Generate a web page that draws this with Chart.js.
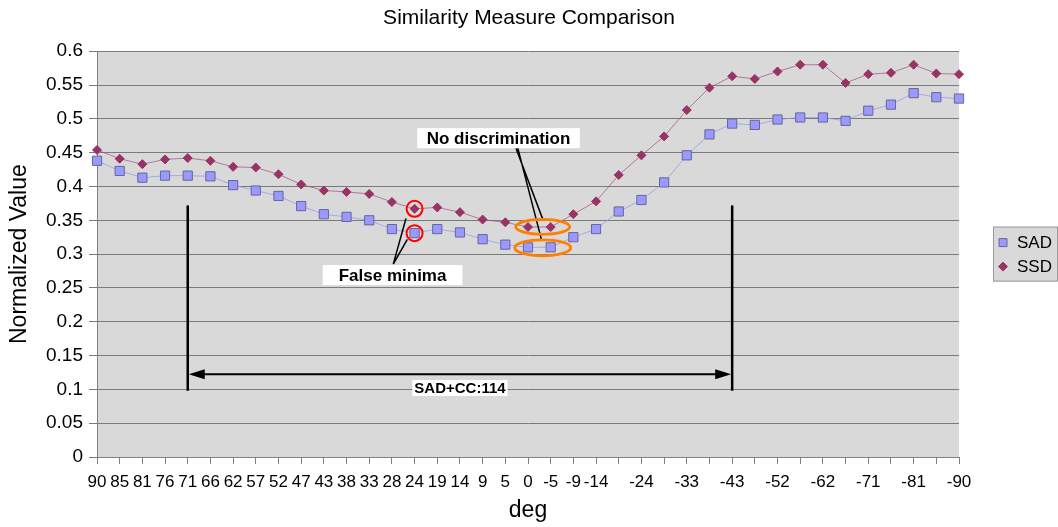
<!DOCTYPE html>
<html>
<head>
<meta charset="utf-8">
<script src="https://cdn.jsdelivr.net/npm/chart.js@4.4.0/dist/chart.umd.min.js"></script>
<style>
  html, body { margin: 0; padding: 0; background: #fff; }
  #wrap { width: 1058px; height: 527px; }
</style>
</head>
<body>
<div id="wrap"><canvas id="simChart" width="1058" height="527"></canvas></div>
<script>
// x categories (deg)
const degLabels = ['90','85','81','76','71','66','62','57','52','47','43','38','33','28','24','19','14','9','5','0',
  '-5','-9','-14','-19','-24','-28','-33','-38','-43','-47','-52','-57','-62','-66','-71','-76','-81','-85','-90'];

const sadValues = [0.438,0.423,0.413,0.416,0.416,0.415,0.402,0.394,0.386,0.371,0.359,0.355,0.350,0.337,0.331,
  0.337,0.332,0.322,0.314,0.310,0.310,0.325,0.337,0.363,0.380,0.406,0.446,0.477,0.493,0.491,0.499,0.502,0.502,
  0.497,0.512,0.521,0.538,0.532,0.530];

const ssdValues = [0.454,0.441,0.433,0.440,0.442,0.438,0.429,0.428,0.418,0.403,0.394,0.392,0.389,0.377,0.367,
  0.369,0.362,0.351,0.347,0.340,0.340,0.359,0.378,0.417,0.446,0.474,0.513,0.546,0.563,0.559,0.570,0.580,0.580,
  0.553,0.566,0.568,0.580,0.567,0.566];

const seriesNames = ['SAD', 'SSD'];

// annotation anchors, in category index / value units
const rangeStart = 4, rangeEnd = 28;     // 71 .. -43
const rangeLabel = 'SAD+CC:114';
const falseMinIdx = 14;                  // 24 deg
const noDiscIdx = 19.65;                 // between 0 and -5

const FONT = '"Liberation Sans", Arial, sans-serif';

function textBox(ctx, text, cx, cy, padX, h, font) {
  ctx.save();
  ctx.font = font;
  const w = ctx.measureText(text).width + padX * 2;
  ctx.fillStyle = '#fff';
  ctx.fillRect(cx - w / 2, cy - h / 2, w, h);
  ctx.fillStyle = '#000';
  ctx.textAlign = 'center';
  ctx.textBaseline = 'middle';
  ctx.fillText(text, cx, cy + 1);
  ctx.restore();
}

const notesPlugin = {
  id: 'notes',
  beforeDraw(chart) {
    const {ctx, chartArea: a} = chart;
    ctx.save();
    ctx.fillStyle = '#d9d9d9';
    ctx.fillRect(a.left, a.top, a.right - a.left, a.bottom - a.top);
    ctx.restore();
  },
  afterDatasetsDraw(chart) {
    const {ctx} = chart;
    const xs = chart.scales.x, ys = chart.scales.y;
    const X = i => xs.getPixelForValue(i);
    const Y = v => ys.getPixelForValue(v);

    ctx.save();
    // range bars
    ctx.strokeStyle = '#000';
    ctx.lineWidth = 2.5;
    [rangeStart, rangeEnd].forEach(i => {
      ctx.beginPath();
      ctx.moveTo(X(i), Y(0.098));
      ctx.lineTo(X(i), Y(0.372));
      ctx.stroke();
    });
    // double arrow
    const ay = Y(0.1225), x1 = X(rangeStart) + 1, x2 = X(rangeEnd) - 1;
    ctx.lineWidth = 2;
    ctx.beginPath();
    ctx.moveTo(x1 + 10, ay);
    ctx.lineTo(x2 - 10, ay);
    ctx.stroke();
    ctx.fillStyle = '#000';
    ctx.beginPath();
    ctx.moveTo(x1, ay); ctx.lineTo(x1 + 16, ay - 5); ctx.lineTo(x1 + 16, ay + 5); ctx.closePath();
    ctx.fill();
    ctx.beginPath();
    ctx.moveTo(x2, ay); ctx.lineTo(x2 - 16, ay - 5); ctx.lineTo(x2 - 16, ay + 5); ctx.closePath();
    ctx.fill();

    // leader lines
    ctx.lineWidth = 1.5;
    ctx.beginPath();
    ctx.moveTo(X(18.47), Y(0.4566)); ctx.lineTo(X(19.65), Y(0.3517));
    ctx.moveTo(X(18.55), Y(0.4566)); ctx.lineTo(X(19.61), Y(0.3192));
    ctx.moveTo(X(13.06), Y(0.2852)); ctx.lineTo(X(13.62), Y(0.3527));
    ctx.moveTo(X(13.06), Y(0.2852)); ctx.lineTo(X(13.68), Y(0.3217));
    ctx.stroke();

    // red circles on the false minima
    ctx.strokeStyle = '#ff0000';
    ctx.lineWidth = 2;
    [ssdValues[falseMinIdx], sadValues[falseMinIdx]].forEach(v => {
      ctx.beginPath();
      ctx.arc(X(falseMinIdx), Y(v), 8, 0, Math.PI * 2);
      ctx.stroke();
    });

    // orange ellipses
    ctx.strokeStyle = '#ff7f00';
    ctx.lineWidth = 2.8;
    ctx.beginPath();
    ctx.ellipse(X(noDiscIdx), Y(0.3403), 27, 7.5, 0, 0, Math.PI * 2);
    ctx.stroke();
    ctx.beginPath();
    ctx.ellipse(X(noDiscIdx), Y(0.3093), 28, 8, 0, 0, Math.PI * 2);
    ctx.stroke();
    ctx.restore();

    textBox(ctx, 'No discrimination', X(17.70), Y(0.4714), 9.5, 20, 'bold 17px ' + FONT);
    textBox(ctx, 'False minima', X(13.03), Y(0.269), 16, 20, 'bold 17px ' + FONT);
    textBox(ctx, rangeLabel, X(16.0), Y(0.102), 2, 16, 'bold 15px ' + FONT);
  },
  afterDraw(chart) {
    // legend box on the right
    const {ctx, chartArea: a} = chart;
    const left = a.right + 34, w = 65, h = 55;
    const top = (a.top + a.bottom) / 2 - h / 2;
    ctx.save();
    ctx.fillStyle = '#d9d9d9';
    ctx.fillRect(left, top, w, h);
    ctx.strokeStyle = '#9a9a9a';
    ctx.lineWidth = 1;
    ctx.strokeRect(left + 0.5, top + 0.5, w - 1, h - 1);
    ctx.font = '17px ' + FONT;
    ctx.textBaseline = 'middle';
    chart.data.datasets.forEach((ds, i) => {
      const cy = top + 16 + i * 24;
      const cx = left + 10;
      ctx.fillStyle = ds.pointBackgroundColor;
      ctx.strokeStyle = ds.pointBorderColor;
      ctx.beginPath();
      if (ds.pointStyle === 'rect') {
        ctx.rect(cx - 4, cy - 4, 8, 8);
      } else {
        ctx.moveTo(cx, cy - 4.5); ctx.lineTo(cx + 4.5, cy); ctx.lineTo(cx, cy + 4.5); ctx.lineTo(cx - 4.5, cy);
        ctx.closePath();
      }
      ctx.fill();
      ctx.stroke();
      ctx.fillStyle = '#000';
      ctx.fillText(ds.label, left + 24, cy + 1);
    });
    ctx.restore();
  }
};

const ctx = document.getElementById('simChart').getContext('2d');
new Chart(ctx, {
  type: 'line',
  data: {
    labels: degLabels,
    datasets: [
      {
        label: seriesNames[0],
        data: sadValues,
        borderColor: 'rgba(150,150,240,0.75)',
        borderWidth: 1,
        pointStyle: 'rect',
        pointRadius: 6.5,
        pointBackgroundColor: '#9999ff',
        pointBorderColor: '#666699',
        pointBorderWidth: 1,
        tension: 0
      },
      {
        label: seriesNames[1],
        data: ssdValues,
        borderColor: 'rgba(160,80,120,0.7)',
        borderWidth: 1,
        pointStyle: 'rectRot',
        pointRadius: 4.5,
        pointBackgroundColor: '#993366',
        pointBorderColor: '#993366',
        pointBorderWidth: 1,
        tension: 0
      }
    ]
  },
  options: {
    responsive: false,
    animation: false,
    layout: { padding: 0 },
    plugins: {
      legend: { display: false },
      tooltip: { enabled: false },
      title: {
        display: true,
        text: 'Similarity Measure Comparison',
        color: '#000',
        font: { family: FONT, size: 21, weight: 'normal' },
        padding: { top: 6, bottom: 20 }
      }
    },
    scales: {
      x: {
        offset: false,
        grid: { drawOnChartArea: false, drawTicks: true, tickLength: 7, color: '#808080' },
        border: { color: '#808080' },
        ticks: {
          autoSkip: false,
          maxRotation: 0,
          minRotation: 0,
          padding: 8,
          color: '#000',
          font: { family: FONT, size: 17 },
          callback: (v, i) => (i <= 22 || i % 2 === 0) ? degLabels[i] : ''
        },
        title: {
          display: true,
          text: 'deg',
          color: '#000',
          font: { family: FONT, size: 23 },
          padding: { top: 0, bottom: 3 }
        },
        afterFit: s => { s.height = 70; }
      },
      y: {
        min: 0,
        max: 0.6,
        grid: { color: '#7a7a7a', tickLength: 8 },
        border: { color: '#808080' },
        ticks: {
          stepSize: 0.05,
          padding: 6,
          color: '#000',
          font: { family: FONT, size: 19 },
          callback: v => Number(v.toFixed(2)).toString()
        },
        title: {
          display: true,
          text: 'Normalized Value',
          color: '#000',
          font: { family: FONT, size: 23 },
          padding: { top: 6, bottom: 0 }
        },
        afterFit: s => { s.width = 97; }
      },
      // empty right-hand strip that leaves room for the legend box
      yLegend: {
        position: 'right',
        display: true,
        grid: { display: false },
        border: { display: false },
        ticks: { display: false },
        afterFit: s => { s.width = 99; }
      }
    }
  },
  plugins: [notesPlugin]
});
</script>
</body>
</html>
